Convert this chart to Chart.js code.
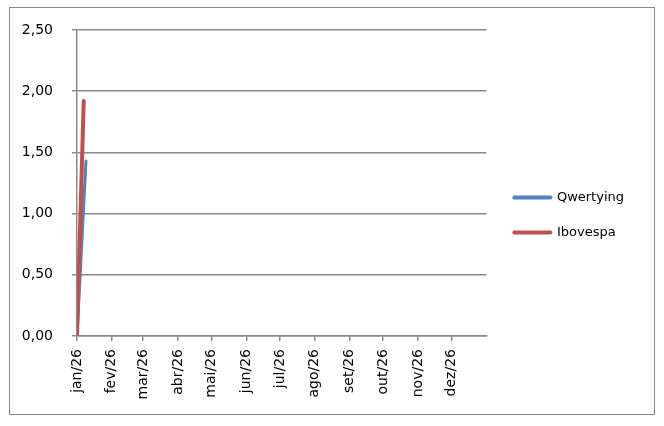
<!DOCTYPE html>
<html>
<head>
<meta charset="utf-8">
<script src="https://cdn.jsdelivr.net/npm/chart.js@4/dist/chart.umd.min.js"></script>
<style>
  html, body { margin: 0; padding: 0; background: #fff; }
  #box {
    position: absolute; left: 9px; top: 7px;
    width: 644px; height: 406px;
    border: 1px solid #868686;
  }
</style>
</head>
<body>
<div id="box"><canvas id="chart" width="644" height="406"></canvas></div>
<script>
// Month ticks (day offsets from 1 jan 2026) and their labels
const monthLabels = ['jan/26', 'fev/26', 'mar/26', 'abr/26', 'mai/26', 'jun/26',
                     'jul/26', 'ago/26', 'set/26', 'out/26', 'nov/26', 'dez/26'];
const monthDays = [0, 31, 59, 90, 120, 151, 181, 212, 243, 273, 304, 334];

// Series (x = day offset, y = value)
const qwertyingDays = [0, 8];
const qwertyingValues = [0, 1.43];
const ibovespaDays = [0, 6];
const ibovespaValues = [0, 1.92];

const yTicks = [0, 0.5, 1, 1.5, 2, 2.5];

const toPoints = (xs, ys) => xs.map((x, i) => ({ x: x, y: ys[i] }));

const gray = '#8a8a8a';
const tickFont = { family: 'DejaVu Sans', size: 14 };
const legendFont = { family: 'DejaVu Sans', size: 13 };

// move the legend a bit right and up, like the excel one
const legendNudge = {
  id: 'legendNudge',
  afterLayout(chart) {
    const lg = chart.legend;
    lg.left += 6;
    lg.right += 6;
    lg.top -= 7;
    lg.bottom -= 7;
  }
};

new Chart(document.getElementById('chart'), {
  type: 'line',
  data: {
    datasets: [
      {
        label: 'Qwertying',
        data: toPoints(qwertyingDays, qwertyingValues),
        borderColor: '#4F81BD',
        backgroundColor: '#4F81BD',
        borderWidth: 3,
        borderCapStyle: 'round',
        pointRadius: 0,
        order: 1 // drawn under the red line
      },
      {
        label: 'Ibovespa',
        data: toPoints(ibovespaDays, ibovespaValues),
        borderColor: '#C0504D',
        backgroundColor: '#C0504D',
        borderWidth: 4,
        borderCapStyle: 'round',
        pointRadius: 0,
        order: 0
      }
    ]
  },
  plugins: [legendNudge],
  options: {
    responsive: false,
    animation: false,
    layout: { padding: { top: 22, right: 26, bottom: 0, left: 0 } },
    plugins: {
      tooltip: { enabled: false },
      legend: {
        position: 'right',
        labels: {
          color: '#000',
          font: legendFont,
          usePointStyle: true,
          pointStyle: 'line',
          pointStyleWidth: 36,
          padding: 22,
          generateLabels: (chart) => chart.data.datasets.map((ds, i) => ({
            text: ds.label,
            fillStyle: ds.borderColor,
            strokeStyle: ds.borderColor,
            lineWidth: 4,
            lineCap: 'round',
            pointStyle: 'line',
            fontColor: '#000',
            datasetIndex: i
          }))
        }
      }
    },
    scales: {
      x: {
        type: 'linear',
        min: 0,
        max: 365,
        afterBuildTicks: (scale) => {
          scale.ticks = monthDays.map(d => ({ value: d }));
        },
        afterFit: (scale) => { scale.height = 78; },
        grid: { drawOnChartArea: false, color: gray, lineWidth: 1.5, tickLength: 5 },
        border: { color: gray, width: 1.5 },
        ticks: {
          autoSkip: false,
          maxRotation: 90,
          minRotation: 90,
          padding: 8,
          color: '#000',
          font: tickFont,
          callback: (v) => monthLabels[monthDays.indexOf(v)]
        }
      },
      y: {
        min: 0,
        max: 2.5,
        afterBuildTicks: (scale) => {
          scale.ticks = yTicks.map(v => ({ value: v }));
        },
        afterFit: (scale) => {
          scale.width = 67;
          scale.paddingTop = 0;
          scale.paddingBottom = 0;
        },
        grid: { color: gray, lineWidth: 1.5, tickLength: 5 },
        border: { color: gray, width: 1.5 },
        ticks: {
          padding: 19,
          color: '#000',
          font: tickFont,
          callback: (v) => v.toFixed(2).replace('.', ',')
        }
      }
    }
  }
});
</script>
</body>
</html>
